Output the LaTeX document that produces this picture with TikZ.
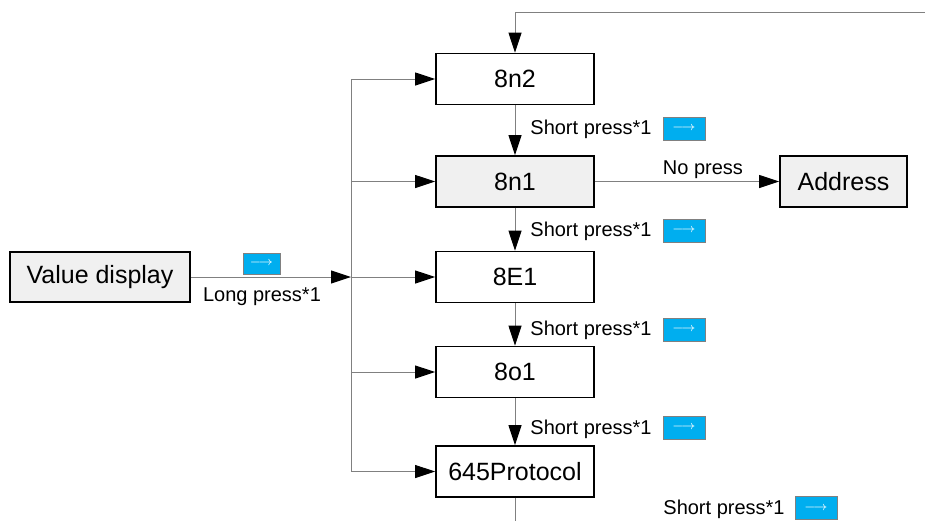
\documentclass[tikz,border=0pt]{standalone}
\usepackage{fontspec}
\setmainfont{Liberation Sans}
\usetikzlibrary{arrows.meta, positioning}
\definecolor{boxgrey}{RGB}{240, 240, 240}
\definecolor{linegrey}{RGB}{128, 128, 128}
\definecolor{keyblue}{RGB}{0, 174, 239}
\tikzset{
  menubox/.style={rectangle, draw=black, line width=0.9pt, fill=white,
    minimum width=79pt, minimum height=25.5pt, inner sep=0pt,
    font=\fontsize{12.5}{15}\selectfont},
  greybox/.style={menubox, fill=boxgrey},
  link/.style={draw=linegrey, line width=0.5pt},
  arrow/.style={link, -{Triangle[length=10pt, width=6.5pt, color=black]}},
  lbl/.style={inner sep=0pt, font=\fontsize{10}{12}\selectfont},
  keyicon/.style={rectangle, draw=linegrey, line width=0.4pt, fill=keyblue,
    minimum width=21pt, minimum height=11.5pt, inner sep=0pt, text=white,
    font=\fontsize{6}{6}\selectfont}
}
\begin{document}
\begin{tikzpicture}[x=0.5pt, y=-0.5pt]
\useasboundingbox (0,0) rectangle (925,521);

% menu entries
\node (dispval)  [greybox, minimum width=90pt, minimum height=25pt] at (100,277) {Value display};
\node (e8n2)     [menubox]  at (515,79)    {8n2};
\node (e8n1)     [greybox]  at (515,181.5) {8n1};
\node (e8E1)     [menubox]  at (515,277)   {8E1};
\node (e8o1)     [menubox]  at (515,372)   {8o1};
\node (proto645) [menubox]  at (515,471.5) {645Protocol};
\node (addr)     [greybox, minimum width=63.5pt] at (843.5,181.5) {Address};

\coordinate (split)   at (351,277);
\coordinate (loopin)  at (925,12);
\coordinate (loopout) at (515,521);

% long press from the value display
\draw[arrow] (dispval) -- (split);
\node (longlbl)  [lbl] at (262,297) {Long press*1};
\node (longkey)  [keyicon, minimum width=18.5pt, minimum height=10.5pt] at (261.5,263.5) {$\longrightarrow$};

% fan out to every entry
\draw[link] (split |- e8n2) -- (split |- proto645);
\foreach \entry in {e8n2, e8n1, e8E1, e8o1, proto645}
  \draw[arrow] (split |- \entry) -- (\entry.west);

% short press chain
\draw[arrow] (loopin) -| (e8n2.north);
\draw[arrow] (e8n2) -- (e8n1);
\draw[arrow] (e8n1) -- (e8E1);
\draw[arrow] (e8E1) -- (e8o1);
\draw[arrow] (e8o1) -- (proto645);
\draw[link]  (proto645) -- (loopout);

\node (sp1)  [lbl, anchor=west] at (530,129)   {Short press*1};
\node (key1) [keyicon] at (684,128.5) {$\longrightarrow$};
\node (sp2)  [lbl, anchor=west] at (530,231)   {Short press*1};
\node (key2) [keyicon] at (684,230.5) {$\longrightarrow$};
\node (sp3)  [lbl, anchor=west] at (530,330)   {Short press*1};
\node (key3) [keyicon] at (684,329.5) {$\longrightarrow$};
\node (sp4)  [lbl, anchor=west] at (530,429)   {Short press*1};
\node (key4) [keyicon] at (684,427.5) {$\longrightarrow$};
\node (sp5)  [lbl, anchor=west] at (663,509)   {Short press*1};
\node (key5) [keyicon] at (816,508) {$\longrightarrow$};

% timeout to the address entry
\draw[arrow] (e8n1) -- (addr);
\node (nolbl) [lbl] at (703,170) {No press};
\end{tikzpicture}
\end{document}
